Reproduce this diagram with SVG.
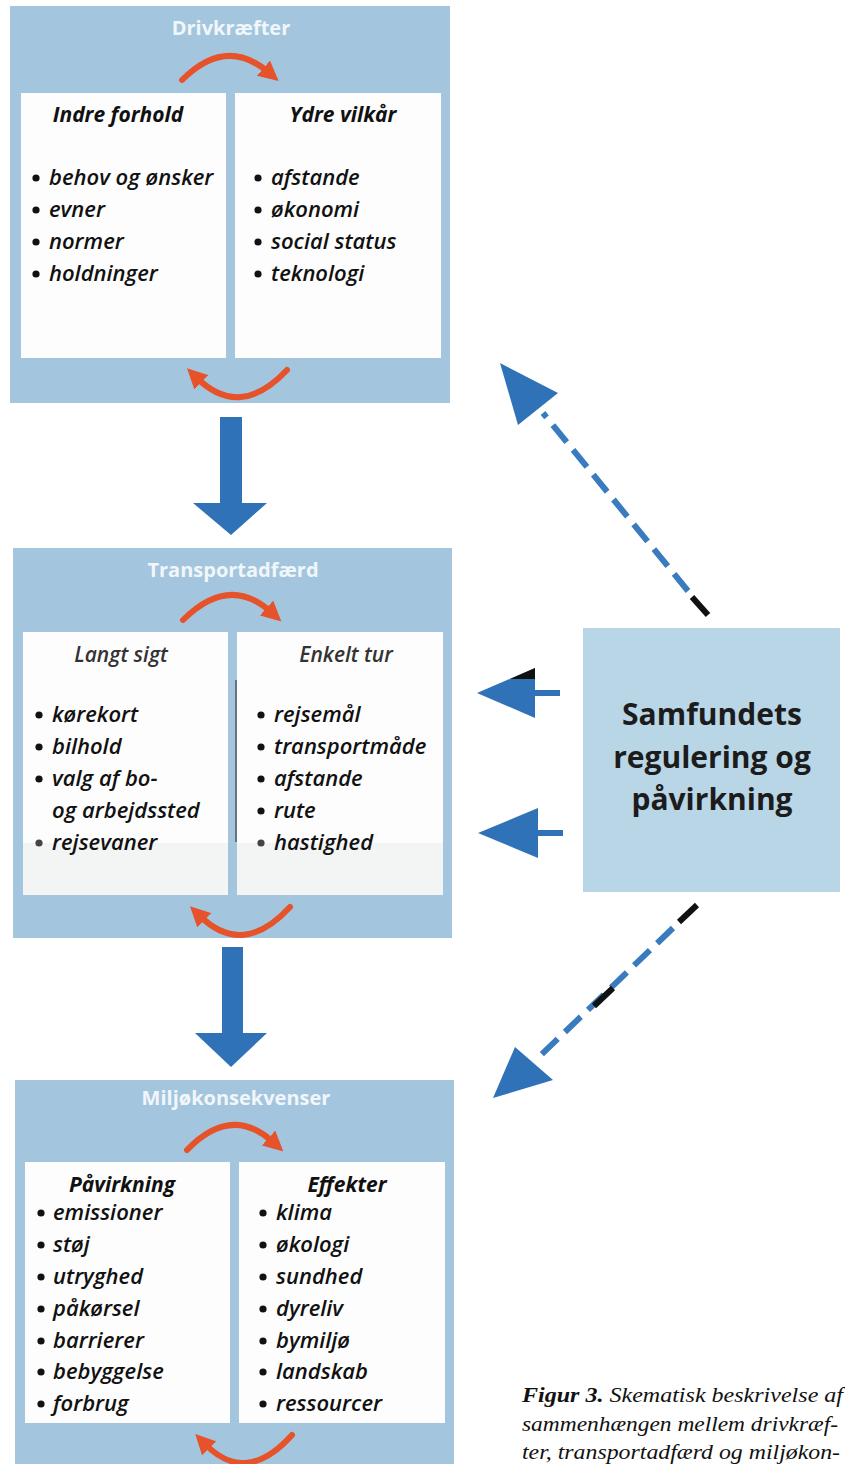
<svg xmlns="http://www.w3.org/2000/svg" width="845" height="1464" viewBox="0 0 845 1464">
<defs>
<style>
.box{fill:#a3c6de}
.pan{fill:#fdfdfd}
.ttl{font-family:"Open Sans","Noto Sans",sans-serif;font-weight:700;font-size:20px;fill:#f1f6fa;text-anchor:middle}
.hd{font-family:"Open Sans","Noto Sans",sans-serif;font-weight:700;font-style:italic;font-size:21px;fill:#111;text-anchor:middle}
.hd2{font-family:"Open Sans","Noto Sans",sans-serif;font-weight:600;font-style:italic;font-size:21px;fill:#333;text-anchor:middle}
.it{font-family:"Open Sans","Noto Sans",sans-serif;font-weight:600;font-style:italic;font-size:22px;fill:#111}
.bu{fill:#111}
.arc{fill:none;stroke:#e6532b;stroke-width:6;stroke-linecap:round}
.big{fill:#2f72b8}
.dash{fill:none;stroke:#3a7bc0;stroke-width:6;stroke-dasharray:22 10}
.blk{stroke:#111;stroke-width:6}
.sam{font-family:"Open Sans","Noto Sans",sans-serif;font-weight:700;font-size:30px;fill:#1c1c1c;text-anchor:middle}
.cap{font-family:"Liberation Serif","DejaVu Serif",serif;font-style:italic;font-size:22px;fill:#111}
</style>
<marker id="oa" viewBox="0 0 10 10" refX="3" refY="5" markerWidth="20" markerHeight="20" markerUnits="userSpaceOnUse" orient="auto">
<path d="M0,0 L10,5 L0,10 z" fill="#e6532b"/>
</marker>
</defs>

<g id="drivkraefter">
<rect class="box" x="10" y="6" width="440" height="397"/>
<text class="ttl" x="231" y="35">Drivkræfter</text>
<rect class="pan" x="21" y="93" width="205" height="265"/>
<rect class="pan" x="235" y="93" width="206" height="265"/>
<text class="hd" x="118" y="122">Indre forhold</text>
<text class="hd" x="343" y="122">Ydre vilkår</text>
<g class="bu"><circle cx="36" cy="178" r="3.6"/><circle cx="36" cy="210" r="3.6"/><circle cx="36" cy="242" r="3.6"/><circle cx="36" cy="274" r="3.6"/>
<circle cx="258" cy="178" r="3.6"/><circle cx="258" cy="210" r="3.6"/><circle cx="258" cy="242" r="3.6"/><circle cx="258" cy="274" r="3.6"/></g>
<text class="it" x="49" y="185">behov og ønsker</text>
<text class="it" x="49" y="217">evner</text>
<text class="it" x="49" y="249">normer</text>
<text class="it" x="49" y="281">holdninger</text>
<text class="it" x="271" y="185">afstande</text>
<text class="it" x="271" y="217">økonomi</text>
<text class="it" x="271" y="249">social status</text>
<text class="it" x="271" y="281">teknologi</text>
<path class="arc" d="M182,80 Q226,36 268,72" marker-end="url(#oa)"/>
<path class="arc" d="M287,370 Q240,420 197,378" marker-end="url(#oa)"/>
</g>

<g id="transportadfaerd">
<rect class="box" x="13" y="548" width="439" height="390"/>
<text class="ttl" x="233" y="577">Transportadfærd</text>
<rect class="pan" x="23" y="632" width="205" height="263"/>
<rect class="pan" x="237" y="632" width="206" height="263"/>
<rect x="23" y="843" width="205" height="52" fill="#f3f4f4"/>
<rect x="237" y="843" width="206" height="52" fill="#f3f4f4"/>
<line x1="236" y1="680" x2="236" y2="842" stroke="#222" stroke-width="1"/>
<text class="hd2" x="121" y="662">Langt sigt</text>
<text class="hd2" x="346" y="662">Enkelt tur</text>
<g class="bu"><circle cx="39" cy="715" r="3.6"/><circle cx="39" cy="747" r="3.6"/><circle cx="39" cy="779" r="3.6"/><circle cx="39" cy="843" r="3.6" fill="#444"/>
<circle cx="261" cy="715" r="3.6"/><circle cx="261" cy="747" r="3.6"/><circle cx="261" cy="779" r="3.6"/><circle cx="261" cy="811" r="3.6"/><circle cx="261" cy="843" r="3.6" fill="#444"/></g>
<text class="it" x="52" y="722">kørekort</text>
<text class="it" x="52" y="754">bilhold</text>
<text class="it" x="52" y="786">valg af bo-</text>
<text class="it" x="52" y="818">og arbejdssted</text>
<text class="it" x="52" y="850" fill="#333">rejsevaner</text>
<text class="it" x="274" y="722">rejsemål</text>
<text class="it" x="274" y="754">transportmåde</text>
<text class="it" x="274" y="786">afstande</text>
<text class="it" x="274" y="818">rute</text>
<text class="it" x="274" y="850" fill="#333">hastighed</text>
<path class="arc" d="M183,620 Q229,574 271,612" marker-end="url(#oa)"/>
<path class="arc" d="M290,907 Q243,958 200,916" marker-end="url(#oa)"/>
</g>

<g id="miljoekonsekvenser">
<rect class="box" x="15" y="1080" width="439" height="384"/>
<text class="ttl" x="236" y="1105">Miljøkonsekvenser</text>
<rect class="pan" x="25" y="1162" width="205" height="261"/>
<rect class="pan" x="239" y="1162" width="206" height="261"/>
<text class="hd" x="122" y="1192">Påvirkning</text>
<text class="hd" x="347" y="1192">Effekter</text>
<g class="bu"><circle cx="41" cy="1213" r="3.6"/><circle cx="41" cy="1245" r="3.6"/><circle cx="41" cy="1277" r="3.6"/><circle cx="41" cy="1309" r="3.6"/><circle cx="41" cy="1341" r="3.6"/><circle cx="41" cy="1372" r="3.6"/><circle cx="41" cy="1404" r="3.6"/>
<circle cx="263" cy="1213" r="3.6"/><circle cx="263" cy="1245" r="3.6"/><circle cx="263" cy="1277" r="3.6"/><circle cx="263" cy="1309" r="3.6"/><circle cx="263" cy="1341" r="3.6"/><circle cx="263" cy="1372" r="3.6"/><circle cx="263" cy="1404" r="3.6"/></g>
<text class="it" x="53" y="1220">emissioner</text>
<text class="it" x="53" y="1252">støj</text>
<text class="it" x="53" y="1284">utryghed</text>
<text class="it" x="53" y="1316">påkørsel</text>
<text class="it" x="53" y="1348">barrierer</text>
<text class="it" x="53" y="1379">bebyggelse</text>
<text class="it" x="53" y="1411">forbrug</text>
<text class="it" x="276" y="1220">klima</text>
<text class="it" x="276" y="1252">økologi</text>
<text class="it" x="276" y="1284">sundhed</text>
<text class="it" x="276" y="1316">dyreliv</text>
<text class="it" x="276" y="1348">bymiljø</text>
<text class="it" x="276" y="1379">landskab</text>
<text class="it" x="276" y="1411">ressourcer</text>
<path class="arc" d="M187,1150 Q231,1104 273,1142" marker-end="url(#oa)"/>
<path class="arc" d="M292,1435 Q246,1486 205,1444" marker-end="url(#oa)"/>
</g>

<g id="samfundet">
<rect x="583" y="628" width="257" height="264" fill="#b9d6e7"/>
<text class="sam" x="712" y="725">Samfundets</text>
<text class="sam" x="712" y="768">regulering og</text>
<text class="sam" x="712" y="810">påvirkning</text>
</g>

<g id="connectors">
<polygon class="big" points="220,417 242,417 242,503 267,503 231,535 193,503 220,503"/>
<polygon class="big" points="222,947 243,947 243,1033 267,1033 231,1067 195,1033 222,1033"/>
<rect class="big" x="533" y="690" width="27" height="6"/>
<polygon class="big" points="477,693 535,668 535,718"/>
<polygon points="510,679 535,668 535,679" fill="#111"/>
<rect class="big" x="536" y="830" width="27" height="6"/>
<polygon class="big" points="478,833 538,808 538,858"/>
<line class="dash" x1="688" y1="591" x2="543" y2="413"/>
<line class="blk" x1="692" y1="597" x2="708" y2="615"/>
<polygon class="big" points="500,363 558,393 518,425"/>
<line class="dash" x1="673" y1="928" x2="540" y2="1056"/>
<line class="blk" x1="697" y1="905" x2="679" y2="922"/>
<line class="blk" x1="613" y1="988" x2="594" y2="1006"/>
<polygon class="big" points="493,1098 553,1080 515,1047"/>
</g>

<g id="caption">
<text class="cap" x="522" y="1402" textLength="321" lengthAdjust="spacingAndGlyphs"><tspan font-weight="700">Figur 3.</tspan> Skematisk beskrivelse af</text>
<text class="cap" x="522" y="1431" textLength="316" lengthAdjust="spacingAndGlyphs">sammenhængen mellem drivkræf-</text>
<text class="cap" x="522" y="1459" textLength="318" lengthAdjust="spacingAndGlyphs">ter, transportadfærd og miljøkon-</text>
</g>
</svg>
